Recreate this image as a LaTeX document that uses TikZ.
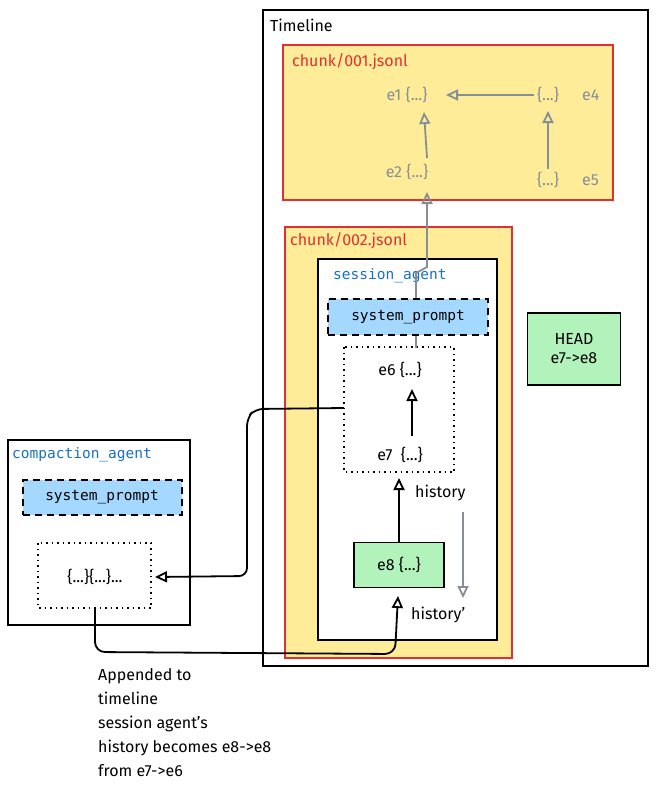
\documentclass[tikz,border=0pt]{standalone}
\usepackage{fontspec}
\setmainfont{Fira Sans}
\newfontfamily\mono{DejaVu Sans Mono}
\usetikzlibrary{arrows.meta}
\definecolor{ylw}{HTML}{FFEC99}
\definecolor{rd}{HTML}{E03131}
\definecolor{bl}{HTML}{A5D8FF}
\definecolor{gr}{HTML}{B2F2BB}
\definecolor{gy}{HTML}{868E96}
\definecolor{tb}{HTML}{1971C2}
\begin{document}
\begin{tikzpicture}[x=1pt,y=-1pt,font=\fontsize{16}{19}\selectfont,
  chunk/.style={draw=rd,fill=ylw,line width=1.5pt},
  box/.style={draw=black,fill=white,line width=1.5pt},
  sp/.style={draw=black,fill=bl,line width=2pt,dash pattern=on 7pt off 5pt},
  dot/.style={draw=black,line width=1.5pt,dash pattern=on 1.5pt off 4pt},
  grn/.style={draw=black,fill=gr,line width=1.5pt},
  lbl/.style={anchor=west,inner sep=0pt},
  gt/.style={text=gy},
  ga/.style={draw=gy,line width=1.8pt,-{Triangle[open,length=12pt,width=11pt]}},
  ba/.style={draw=black,line width=1.8pt,-{Triangle[open,length=12pt,width=11pt]}}]
\useasboundingbox (0,0) rectangle (657,801);
\draw[box] (263,10) rectangle (648,666);
\node[lbl] (tl) at (270,25) {Timeline};
\draw[chunk] (283,45) rectangle (613,200);
\node[lbl,text=rd] (c1) at (292,62) {chunk/001.jsonl};
\node[gt] (e1) at (407,95) {e1 \{...\}};
\node[gt] (e4b) at (548,95) {\{...\}};
\node[gt,lbl] (e4) at (582,95) {e4};
\node[gt] (e2) at (407,172) {e2 \{...\}};
\node[gt] (e5b) at (548,180) {\{...\}};
\node[gt,lbl] (e5) at (582,180) {e5};
\draw[ga] (e4b.west) -- (446,95);
\draw[ga] (427,158) -- (424,112);
\draw[ga] (e5b.north) -- (548,111);
\draw[chunk] (285,227) rectangle (512,658);
\node[lbl,text=rd] (c2) at (290,241) {chunk/002.jsonl};
\draw[box] (318,259) rectangle (497,640);
\node[lbl,text=tb,font=\mono\fontsize{14.5}{17}\selectfont] (sa) at (333,276) {session\_agent};
\coordinate (gs) at (416,348);
\draw[ga] (gs) -- (416,273) -- (427,267) -- (427,192);
\node[sp,minimum width=160pt,minimum height=36pt,font=\mono\fontsize{14.5}{17}\selectfont] (sp1) at (408,317) {system\_prompt};
\draw[dot] (344,347) rectangle (454,472);
\node (e6) at (400,370) {e6 \{...\}};
\node (e7) at (400,455) {e7~~\{...\}};
\draw[ba] (412,436) -- (412,389);
\node[grn,minimum width=90pt,minimum height=45pt] (e8) at (399,565) {e8 \{...\}};
\draw[ba] (e8.north) -- (399,478);
\node[lbl] (h) at (415,493) {history};
\draw[ga] (463,512) -- (463,598);
\node[lbl] (h2) at (411,615) {history'};
\node[grn,minimum width=93pt,minimum height=72pt,align=center] (head) at (574,349) {HEAD\\e7->e8};
\draw[box] (8,440) rectangle (190,625);
\node[lbl,text=tb,font=\mono\fontsize{14.5}{17}\selectfont] (ca) at (12,455) {compaction\_agent};
\node[sp,minimum width=159pt,minimum height=35pt,font=\mono\fontsize{14.5}{17}\selectfont] (sp2) at (102,497) {system\_prompt};
\draw[dot] (38,543) rectangle (151,608);
\node (cb) at (95,577) {\{...\}\{...\}...};
\coordinate (sl) at (344,408);
\draw[ba,rounded corners=8pt] (sl) -- (255,409) -- (247,418) -- (247,576) -- (155,577);
\coordinate (cbb) at (95,608);
\draw[ba,rounded corners=10pt] (cbb) -- (95,652) -- (395,654) -- (398,596);
\node[anchor=north west,align=left,inner sep=0pt,font=\fontsize{16}{24}\selectfont] (note) at (98,668) {Appended to\\timeline\\session agent's\\history becomes e8->e8\\from e7->e6};
\end{tikzpicture}
\end{document}
